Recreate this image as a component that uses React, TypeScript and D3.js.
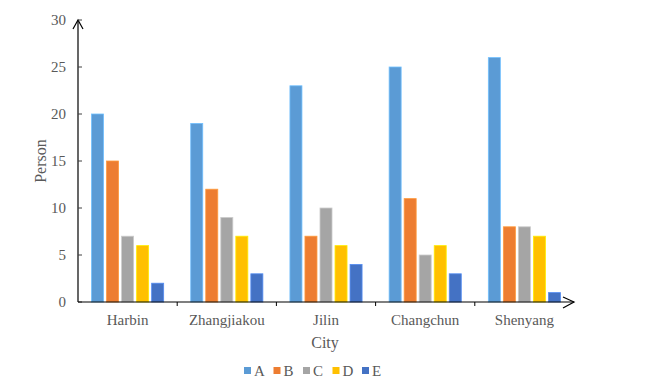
import React from "react";
import * as d3 from "d3";

const cities = ["Harbin", "Zhangjiakou", "Jilin", "Changchun", "Shenyang"];
const series = ["A", "B", "C", "D", "E"];
const valuesA = [20, 19, 23, 25, 26];
const valuesB = [15, 12, 7, 11, 8];
const valuesC = [7, 9, 10, 5, 8];
const valuesD = [6, 7, 6, 6, 7];
const valuesE = [2, 3, 4, 3, 1];
const yTicks = [0, 5, 10, 15, 20, 25, 30];
const colors = ["#5B9BD5", "#ED7D31", "#A5A5A5", "#FFC000", "#4472C4"];

const allValues = [valuesA, valuesB, valuesC, valuesD, valuesE];

const width = 654;
const height = 390;
const left = 78;
const right = 574;
const top = 20;
const bottom = 302;
const font = "'Liberation Serif', 'Times New Roman', serif";
const textColor = "#595959";

export default function App() {
  const x0 = d3.scaleBand().domain(cities).range([left, right]).padding(0);
  const x1 = d3
    .scaleBand()
    .domain(series)
    .range([0, x0.bandwidth()])
    .paddingInner(0.2)
    .paddingOuter(0.9);
  const y = d3.scaleLinear().domain([0, 30]).range([bottom, top]);

  const boundaries = cities.map(c => x0(c) as number).concat([right]);

  return (
    <svg
      width={width}
      height={height}
      style={{ position: "absolute", left: 0, top: 0, background: "#fff", fontFamily: font }}
    >
      {/* bars */}
      {cities.map((city, ci) => (
        <g key={city} transform={`translate(${x0(city)},0)`}>
          {series.map((s, si) => {
            const v = allValues[si][ci];
            const c = colors[si];
            return (
              <rect
                key={s}
                x={x1(s)}
                y={y(v)}
                width={x1.bandwidth()}
                height={y(0) - y(v)}
                fill={c}
                stroke={d3.color(c)!.brighter(0.6).toString()}
                strokeWidth={0.8}
              />
            );
          })}
        </g>
      ))}

      {/* y axis */}
      <line x1={left} x2={left} y1={bottom} y2={top} stroke="#000" strokeWidth={1.2} />
      <path
        d={`M${left - 5},${top + 9} L${left},${top} L${left + 5},${top + 9}`}
        fill="none"
        stroke="#000"
        strokeWidth={1.2}
      />
      {yTicks.map(t => (
        <g key={t}>
          <line x1={left} x2={left + 4} y1={y(t)} y2={y(t)} stroke="#404040" />
          <text
            x={66}
            y={y(t)}
            dy="0.35em"
            textAnchor="end"
            fontSize={15}
            fill={textColor}
          >
            {t}
          </text>
        </g>
      ))}

      {/* x axis */}
      <line x1={left} x2={right} y1={bottom} y2={bottom} stroke="#000" strokeWidth={1.2} />
      <path
        d={`M${right - 11},${bottom - 5} L${right},${bottom} L${right - 11},${bottom + 6}`}
        fill="none"
        stroke="#000"
        strokeWidth={1.2}
      />
      {boundaries.slice(1, -1).map((b, i) => (
        <line key={i} x1={b} x2={b} y1={bottom} y2={bottom + 4} stroke="#000" />
      ))}
      {cities.map(city => (
        <text
          key={city}
          x={(x0(city) as number) + x0.bandwidth() / 2}
          y={325}
          textAnchor="middle"
          fontSize={15}
          fill={textColor}
        >
          {city}
        </text>
      ))}

      {/* axis titles */}
      <text x={325} y={348} textAnchor="middle" fontSize={16} fill={textColor}>
        City
      </text>
      <text
        transform={`translate(46,${(top + bottom) / 2}) rotate(-90)`}
        textAnchor="middle"
        fontSize={16}
        fill={textColor}
      >
        Person
      </text>

      {/* legend */}
      {series.map((s, i) => (
        <g key={s} transform={`translate(${244 + i * 29.5},367)`}>
          <rect width={7} height={7} fill={colors[i]} />
          <text x={10} y={9} fontSize={15} fill={textColor}>
            {s}
          </text>
        </g>
      ))}
    </svg>
  );
}
